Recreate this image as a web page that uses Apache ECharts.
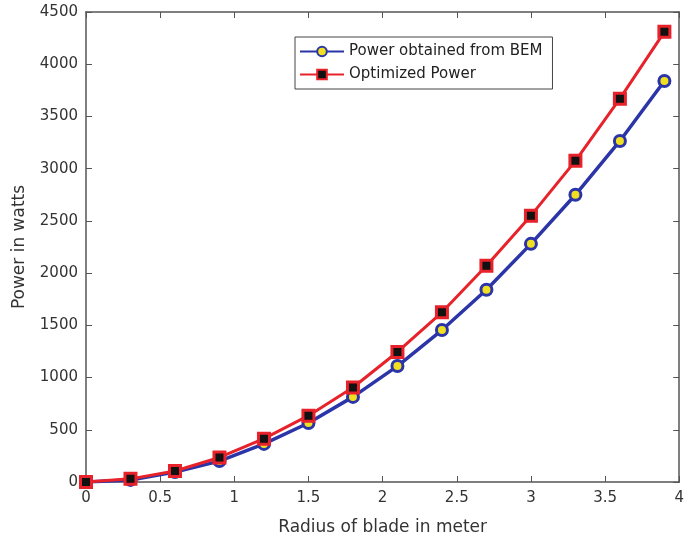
<!DOCTYPE html>
<html>
<head>
<meta charset="utf-8">
<script src="https://cdn.jsdelivr.net/npm/echarts@6/dist/echarts.min.js"></script>
<style>
  html, body { margin: 0; padding: 0; background: #fff; }
  #chart { width: 687px; height: 543px; }
</style>
</head>
<body>
<div id="chart"></div>
<script>
// radius of blade (m)
const radius = [0, 0.3, 0.6, 0.9, 1.2, 1.5, 1.8, 2.1, 2.4, 2.7, 3.0, 3.3, 3.6, 3.9];
// power (W)
const powerBEM = [0, 20, 95, 200, 365, 565, 815, 1110, 1455, 1840, 2280, 2750, 3265, 3840];
const powerOpt = [0, 30, 105, 235, 415, 635, 905, 1245, 1625, 2070, 2550, 3075, 3670, 4310];
const seriesNames = ["Power obtained from BEM", "Optimized Power"];

function pairs(xs, ys) {
  return xs.map((x, i) => [x, ys[i]]);
}

const axisColor = "#555";
const font = "DejaVu Sans";
const labelStyle = { color: "#333", fontSize: 15, fontFamily: font };

// main axis + mirrored axis for the box frame
function frameAxis(extra) {
  return Object.assign({
    type: "value",
    axisLine: { show: true, onZero: false, lineStyle: { color: axisColor, width: 1.5 } },
    axisTick: { show: true, inside: true, length: 6, lineStyle: { color: axisColor } },
    axisLabel: { show: false },
    splitLine: { show: false }
  }, extra);
}

const chart = echarts.init(document.getElementById("chart"));
chart.setOption({
  animation: false,
  grid: { left: 86, right: 6, top: 12, bottom: 61 },
  legend: {
    left: 295, top: 37,
    orient: "vertical",
    itemWidth: 44, itemHeight: 12, itemGap: 8,
    padding: [7, 10, 7, 4],
    borderColor: "#444", borderWidth: 1,
    backgroundColor: "#fff",
    textStyle: { color: "#222", fontSize: 15, fontFamily: font },
    data: seriesNames
  },
  xAxis: [
    frameAxis({
      min: 0, max: 4, interval: 0.5,
      name: "Radius of blade in meter", nameLocation: "middle", nameGap: 37,
      nameTextStyle: { color: "#333", fontSize: 17, fontFamily: font },
      axisLabel: Object.assign({ margin: 9 }, labelStyle)
    }),
    frameAxis({ min: 0, max: 4, interval: 0.5, position: "top" })
  ],
  yAxis: [
    frameAxis({
      min: 0, max: 4500, interval: 500,
      name: "Power in watts", nameLocation: "middle", nameGap: 58,
      nameTextStyle: { color: "#333", fontSize: 17, fontFamily: font },
      axisLabel: Object.assign({ margin: 8, formatter: (v) => String(v) }, labelStyle)
    }),
    frameAxis({ min: 0, max: 4500, interval: 500, position: "right" })
  ],
  series: [{
    name: seriesNames[0],
    type: "line",
    data: pairs(radius, powerBEM),
    symbol: "circle", symbolSize: 11,
    lineStyle: { color: "#2b35a8", width: 3.5 },
    itemStyle: { color: "#f0e020", borderColor: "#2b35a8", borderWidth: 3 },
    z: 2
  }, {
    name: seriesNames[1],
    type: "line",
    data: pairs(radius, powerOpt),
    symbol: "rect", symbolSize: 11,
    lineStyle: { color: "#e8222a", width: 3 },
    itemStyle: { color: "#111", borderColor: "#e8222a", borderWidth: 3 },
    z: 3
  }]
});
</script>
</body>
</html>
